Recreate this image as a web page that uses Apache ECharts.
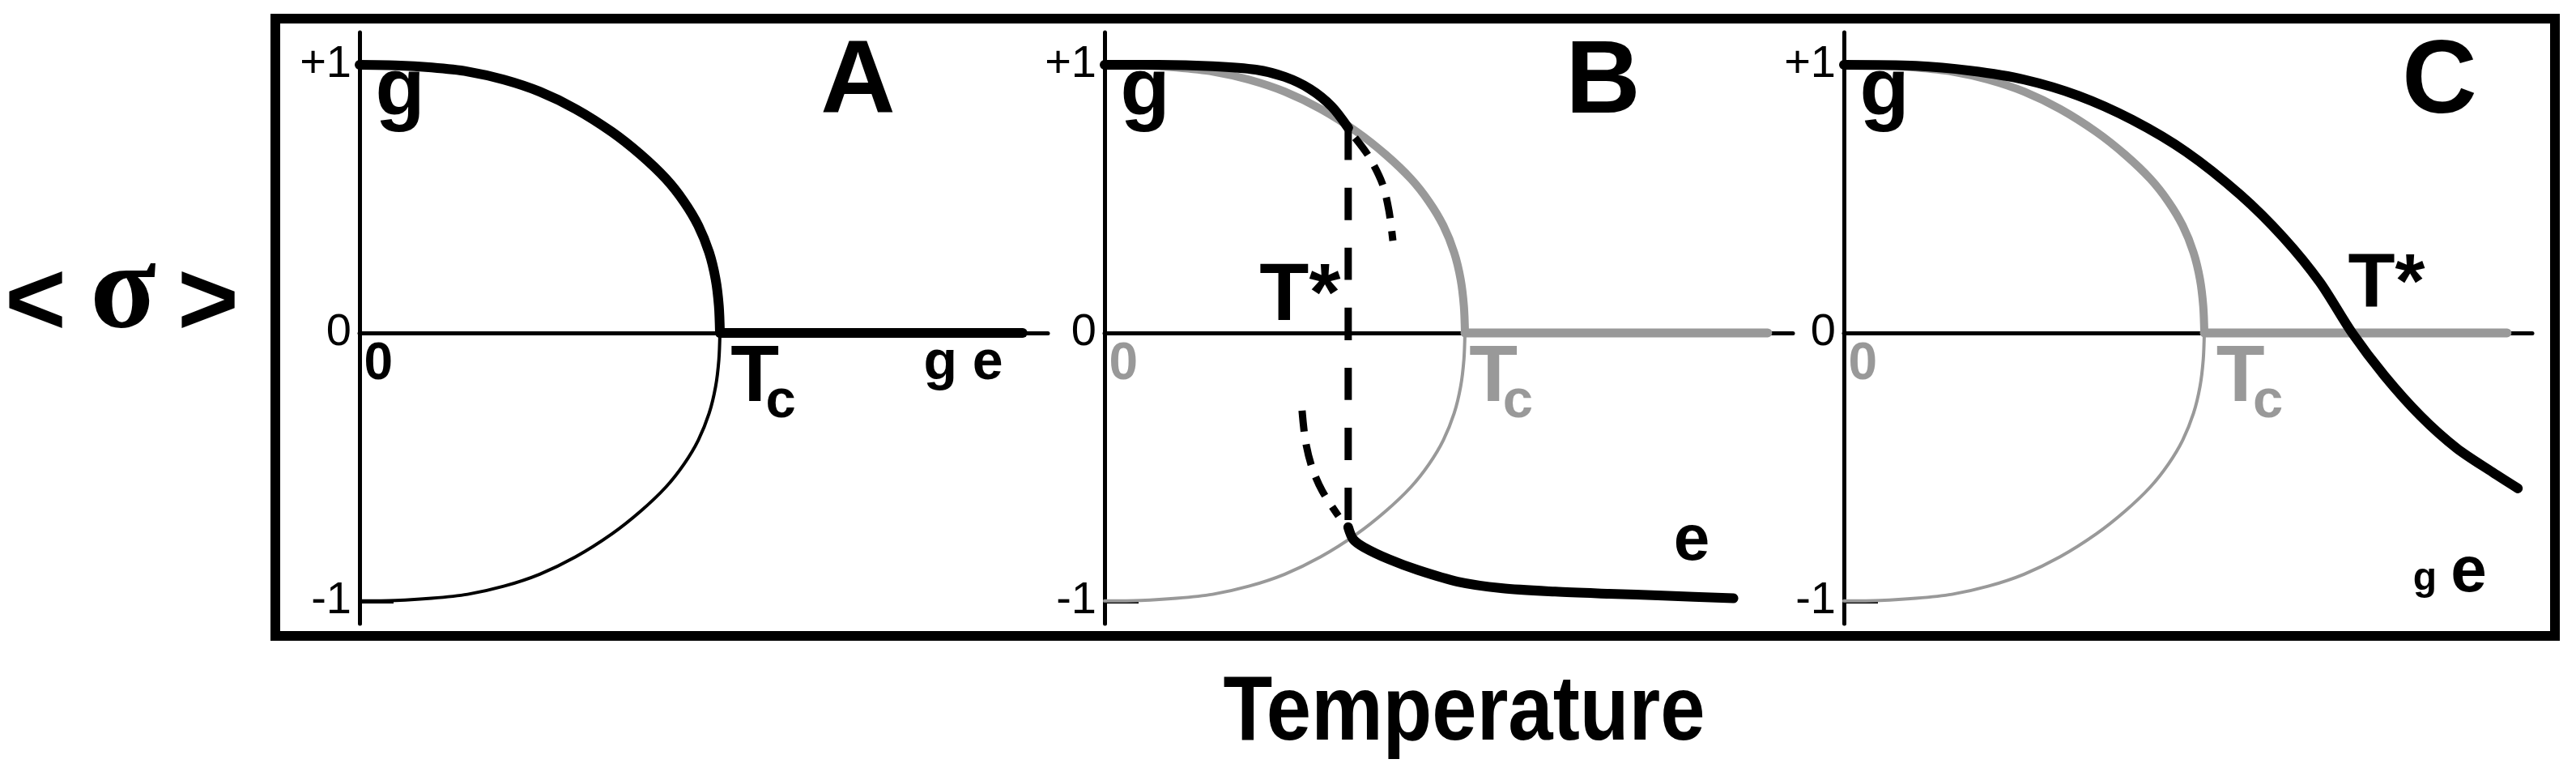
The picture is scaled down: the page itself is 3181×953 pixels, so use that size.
<!DOCTYPE html>
<html>
<head>
<meta charset="utf-8">
<script src="https://cdn.jsdelivr.net/npm/echarts@6/dist/echarts.min.js"></script>
<style>
  html, body { margin: 0; padding: 0; background: #fff; }
  #chart { width: 3181px; height: 953px; }
</style>
</head>
<body>
<div id="chart"></div>
<script>
// ---------- data (temperature in units of Tc, order parameter <sigma>) ----------
const panels = ['A', 'B', 'C'];
const yTicks = [-1, 0, 1];
const yTickText = ['-1', '0', '+1'];
const xRange = [0, 1.91];
const yRange = [-1.085, 1.121];

// mean-field order parameter (upper and lower branches) and zero line above Tc
const orderUpper = [[0,1],[0.1,0.998],[0.2,0.99],[0.3,0.975],[0.4,0.945],[0.5,0.9],[0.6,0.835],[0.7,0.75],[0.78,0.665],[0.85,0.575],[0.9,0.49],[0.94,0.4],[0.97,0.3],[0.988,0.2],[0.997,0.1],[1.0,0]];
const orderLower = [[1.0,0],[0.997,-0.1],[0.988,-0.2],[0.97,-0.3],[0.94,-0.4],[0.9,-0.49],[0.85,-0.575],[0.78,-0.665],[0.7,-0.75],[0.6,-0.835],[0.5,-0.9],[0.4,-0.945],[0.3,-0.975],[0.2,-0.99],[0.1,-0.998],[0,-1]];
const orderAbove = [[1.0,0],[1.84,0]];

// panel B: first-order jump at T*
const bGround = [[0,1],[0.15,1.0],[0.3,0.995],[0.42,0.982],[0.5,0.955],[0.57,0.91],[0.63,0.845],[0.676,0.765]];
const bJump = [[0.676,0.765],[0.676,-0.725]];
const bMetaUpper = [[0.695,0.728],[0.733,0.659],[0.771,0.556],[0.789,0.456],[0.8,0.344]];
const bMetaLower = [[0.548,-0.29],[0.557,-0.4],[0.575,-0.5],[0.604,-0.59],[0.649,-0.683]];
const bExcited = [[0.676,-0.725],[0.69,-0.77],[0.72,-0.8],[0.79,-0.845],[0.87,-0.885],[0.98,-0.928],[1.1,-0.952],[1.25,-0.965],[1.4,-0.973],[1.55,-0.98],[1.745,-0.99]];

// panel C: smooth crossover through zero at T*
const cCurve = [[0,1],[0.2,0.996],[0.35,0.978],[0.5,0.945],[0.65,0.885],[0.8,0.795],[0.95,0.675],[1.1,0.515],[1.22,0.355],[1.32,0.19],[1.41,0.0],[1.5,-0.16],[1.6,-0.31],[1.7,-0.43],[1.8,-0.52],[1.87,-0.58]];

// ---------- styling / layout ----------
const BLACK = '#000000';
const GRAY = '#999999';
const gridLefts = [444, 1364, 2277];
const SANS = 'Liberation Sans, Arial, sans-serif';

const chart = echarts.init(document.getElementById('chart'), null, { renderer: 'canvas' });

function line(idx, data, color, width, dash, z) {
  return {
    type: 'line', xAxisIndex: idx, yAxisIndex: idx, data: data,
    showSymbol: false, symbol: 'none', smooth: 0.3, silent: true, z: z || 2,
    lineStyle: { color: color, width: width, type: dash || 'solid', cap: dash ? 'butt' : 'round', join: 'round', opacity: 1 },
    animation: false
  };
}

function notes(idx, items) {
  return {
    type: 'scatter', xAxisIndex: idx, yAxisIndex: idx, silent: true, z: 10,
    symbolSize: 1, itemStyle: { color: 'rgba(255,255,255,0)' }, animation: false,
    data: items.map(it => ({
      value: [it[0], it[1]],
      label: {
        show: true, position: [0, 0], formatter: it[2],
        fontFamily: SANS, fontWeight: 'bold', fontSize: it[3],
        color: it[4] || BLACK, opacity: 1, textBorderWidth: 0, textShadowBlur: 0,
        align: it[5] || 'left', verticalAlign: 'middle'
      }
    }))
  };
}

const grids = gridLefts.map(l => ({ left: l, top: 40, width: 850, height: 730 }));
const xAxes = gridLefts.map((l, i) => ({
  type: 'value', gridIndex: i, min: xRange[0], max: xRange[1],
  axisLine: { show: true, onZero: true, lineStyle: { color: BLACK, width: 5 } },
  axisTick: { show: false }, axisLabel: { show: false }, splitLine: { show: false }
}));
const yAxes = gridLefts.map((l, i) => ({
  type: 'value', gridIndex: i, min: yRange[0], max: yRange[1],
  axisLine: { show: true, lineStyle: { color: BLACK, width: 5 } },
  axisTick: { show: true, inside: true, length: 42, customValues: [-1, 1], lineStyle: { color: BLACK, width: 5 } },
  axisLabel: {
    show: true, customValues: yTicks, margin: 10,
    formatter: v => yTickText[yTicks.indexOf(Math.round(v))],
    fontFamily: SANS, fontSize: 56, color: BLACK
  },
  splitLine: { show: false }
}));

const series = [
  // A
  line(0, orderUpper, BLACK, 12),
  line(0, orderLower, BLACK, 4),
  line(0, orderAbove, BLACK, 12),
  notes(0, [
    [0.045, 0.894, 'g', 100], [1.384, 0.927, panels[0], 128, BLACK, 'center'],
    [0.0135, -0.121, '0', 64], [1.031, -0.175, 'T', 98], [1.128, -0.26, 'c', 67],
    [1.566, -0.116, 'g e', 68]
  ]),
  // B
  line(1, orderUpper, GRAY, 10, null, 1),
  line(1, orderLower, GRAY, 4, null, 1),
  line(1, orderAbove, GRAY, 11, null, 1),
  line(1, bGround, BLACK, 12),
  line(1, bJump, BLACK, 9, [40, 34]),
  line(1, bMetaUpper, BLACK, 9, [26, 16]),
  line(1, bMetaLower, BLACK, 9, [26, 16]),
  line(1, bExcited, BLACK, 12),
  notes(1, [
    [0.045, 0.894, 'g', 100], [1.384, 0.927, panels[1], 128, BLACK, 'center'],
    [0.0135, -0.121, '0', 64, GRAY], [1.013, -0.175, 'T', 98, GRAY], [1.106, -0.26, 'c', 67, GRAY],
    [0.431, 0.13, 'T*', 100], [1.58, -0.78, 'e', 80]
  ]),
  // C
  line(2, orderUpper, GRAY, 10, null, 1),
  line(2, orderLower, GRAY, 4, null, 1),
  line(2, orderAbove, GRAY, 11, null, 1),
  line(2, cCurve, BLACK, 12),
  notes(2, [
    [0.045, 0.894, 'g', 100], [1.654, 0.927, panels[2], 128, BLACK, 'center'],
    [0.0135, -0.121, '0', 64, GRAY], [1.034, -0.175, 'T', 98, GRAY], [1.136, -0.26, 'c', 67, GRAY],
    [1.4, 0.175, 'T*', 95], [1.58, -0.92, 'g', 48], [1.685, -0.9, 'e', 80]
  ])
];

chart.setOption({
  backgroundColor: '#ffffff',
  animation: false,
  grid: grids,
  xAxis: xAxes,
  yAxis: yAxes,
  series: series,
  graphic: [
    { type: 'rect', shape: { x: 340, y: 23, width: 2815, height: 762 },
      style: { fill: 'none', stroke: BLACK, lineWidth: 12 }, silent: true },
    { type: 'text', x: 44, y: 377, style: { text: '<', font: 'bold 130px ' + SANS, fill: BLACK, align: 'center', verticalAlign: 'middle' } },
    { type: 'text', x: 152, y: 365, style: { text: 'σ', font: 'bold 150px Liberation Serif, Times New Roman, serif', fill: BLACK, align: 'center', verticalAlign: 'middle' } },
    { type: 'text', x: 257, y: 377, style: { text: '>', font: 'bold 130px ' + SANS, fill: BLACK, align: 'center', verticalAlign: 'middle' } },
    { type: 'text', x: 1808, y: 882, scaleX: 0.88, style: { text: 'Temperature', font: 'bold 113px ' + SANS, fill: BLACK, align: 'center', verticalAlign: 'middle' } }
  ]
});
</script>
</body>
</html>
